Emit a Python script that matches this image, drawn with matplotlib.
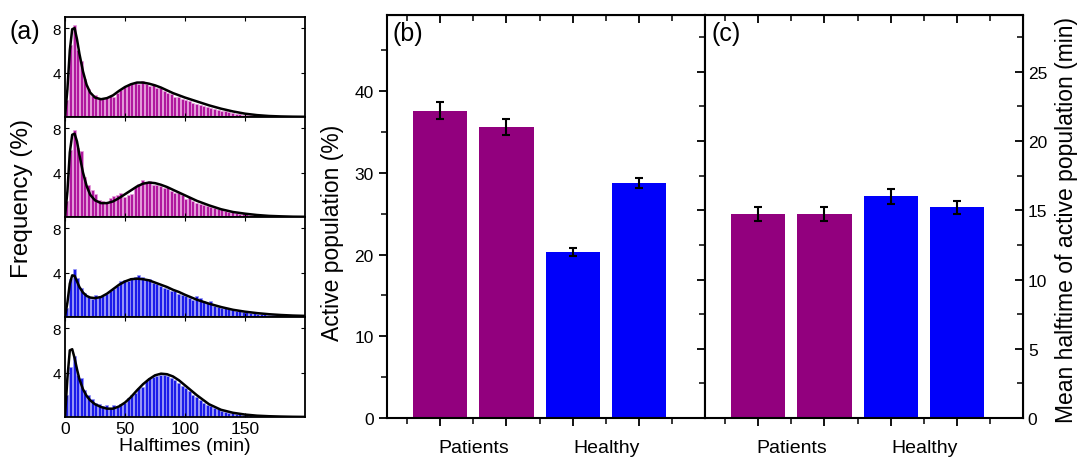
import numpy as np
import matplotlib
matplotlib.use("Agg")
import matplotlib.pyplot as plt
from matplotlib.transforms import blended_transform_factory

plt.rcParams["font.family"] = ["Liberation Sans", "DejaVu Sans"]

# ---- panel (a): halftime histograms (3 min bins, 0-180 min) ----
bin_width = 3
bin_centers = np.arange(60) * bin_width + bin_width / 2

hist_p1 = [1.5, 6.5, 8.3, 6.0, 5.0, 3.4, 2.5, 1.9, 2.0, 1.7,
           1.6, 1.7, 1.9, 1.8, 2.2, 2.4, 2.7, 2.9, 3.0, 3.1,
           3.0, 3.2, 3.0, 2.8, 2.9, 2.6, 2.6, 2.3, 2.2, 2.1,
           1.8, 1.8, 1.6, 1.5, 1.4, 1.3, 1.2, 1.1, 1.0, 0.9,
           0.85, 0.7, 0.65, 0.55, 0.5, 0.45, 0.35, 0.3, 0.25, 0.2,
           0.2, 0.15, 0.12, 0.1, 0.08, 0.06, 0.05, 0.04, 0.03, 0.02]
hist_p2 = [1.4, 6.0, 7.8, 6.2, 5.9, 3.6, 2.9, 2.4, 2.1, 1.5,
           1.4, 1.3, 1.7, 1.9, 2.0, 2.2, 1.8, 2.0, 2.1, 2.7,
           3.0, 3.3, 3.1, 3.2, 2.9, 2.9, 2.8, 2.6, 2.7, 2.3,
           2.2, 2.2, 2.0, 1.6, 1.8, 1.4, 1.3, 1.2, 1.1, 1.0,
           0.9, 0.8, 0.7, 0.75, 0.5, 0.45, 0.45, 0.35, 0.3, 0.35,
           0.25, 0.2, 0.15, 0.12, 0.1, 0.08, 0.06, 0.04, 0.03, 0.02]
hist_h1 = [0.8, 3.4, 4.3, 3.5, 2.6, 2.2, 1.8, 1.6, 2.0, 1.8,
           1.9, 2.1, 2.3, 2.5, 2.8, 3.2, 3.3, 3.2, 3.5, 3.6,
           3.8, 3.6, 3.4, 3.4, 3.1, 3.0, 2.8, 2.6, 2.5, 2.3,
           2.3, 2.1, 2.0, 1.9, 1.7, 1.5, 1.9, 1.7, 1.4, 1.3,
           1.4, 1.0, 0.9, 0.85, 0.8, 0.7, 0.6, 0.55, 0.5, 0.45,
           0.45, 0.4, 0.35, 0.3, 0.3, 0.25, 0.22, 0.2, 0.18, 0.15]
hist_h2 = [2.0, 4.5, 5.5, 3.8, 3.5, 2.4, 2.0, 1.6, 1.3, 1.2,
           1.0, 1.1, 0.8, 1.1, 0.9, 1.2, 1.3, 1.7, 2.0, 2.2,
           2.6, 2.7, 3.2, 3.5, 3.6, 3.7, 3.8, 3.8, 3.7, 3.5,
           3.3, 3.1, 2.8, 2.6, 2.3, 2.0, 1.8, 1.5, 1.3, 1.1,
           1.0, 0.8, 0.7, 0.55, 0.45, 0.4, 0.35, 0.3, 0.25, 0.2,
           0.25, 0.15, 0.12, 0.1, 0.08, 0.06, 0.05, 0.04, 0.03, 0.02]

# fitted curves
fit_x = [0, 2, 4, 6, 8, 10, 12, 15, 18, 21, 25, 30, 35, 40, 45, 50, 55, 60,
         65, 70, 75, 80, 85, 90, 95, 100, 110, 120, 130, 140, 150, 160, 170,
         180, 190, 200]
fit_p1 = [0, 2.5, 6.0, 7.9, 8.0, 7.0, 5.7, 4.1, 2.9, 2.2, 1.75, 1.6, 1.7, 1.95,
          2.35, 2.7, 2.95, 3.1, 3.1, 3.0, 2.85, 2.65, 2.4, 2.15, 1.95, 1.75,
          1.4, 1.05, 0.75, 0.5, 0.3, 0.17, 0.09, 0.05, 0.03, 0.02]
fit_p2 = [0, 2.3, 5.8, 7.4, 7.5, 6.8, 5.6, 4.0, 2.8, 2.0, 1.5, 1.25, 1.25, 1.4,
          1.7, 2.05, 2.4, 2.75, 3.0, 3.1, 3.05, 2.9, 2.7, 2.45, 2.2, 1.95,
          1.45, 1.05, 0.7, 0.45, 0.3, 0.18, 0.1, 0.06, 0.03, 0.02]
fit_h1 = [0, 1.3, 3.0, 3.75, 3.7, 3.2, 2.7, 2.2, 1.9, 1.75, 1.7, 1.8, 2.1, 2.5,
          2.9, 3.2, 3.4, 3.45, 3.4, 3.3, 3.1, 2.9, 2.7, 2.45, 2.25, 2.0,
          1.55, 1.2, 0.9, 0.65, 0.48, 0.35, 0.25, 0.18, 0.13, 0.1]
fit_h2 = [0, 3.5, 6.0, 6.1, 5.3, 4.3, 3.4, 2.5, 1.9, 1.5, 1.15, 0.9, 0.75, 0.75,
          0.95, 1.3, 1.8, 2.4, 2.95, 3.4, 3.75, 3.9, 3.85, 3.65, 3.3, 2.85,
          1.95, 1.15, 0.65, 0.38, 0.22, 0.12, 0.07, 0.04, 0.02, 0.01]

# ---- panels (b) and (c): bar charts ----
groups = ["Patients", "Healthy"]
active_pop = [37.6, 35.6, 20.3, 28.7]
active_pop_err = [1.0, 1.0, 0.5, 0.6]
mean_halftime = [14.7, 14.7, 16.0, 15.2]
mean_halftime_err = [0.5, 0.5, 0.55, 0.5]

purple = "#92007E"
blue = "#0000FA"
bar_colors = [purple, purple, blue, blue]

hist_sets = [
    (hist_p1, fit_p1, "#B0189E", "#E7A0DD"),
    (hist_p2, fit_p2, "#B0189E", "#E7A0DD"),
    (hist_h1, fit_h1, "#1B1BEA", "#9A9AF7"),
    (hist_h2, fit_h2, "#1B1BEA", "#9A9AF7"),
]

fig = plt.figure(figsize=(10.79, 4.6), dpi=100)
W, H = 1079.0, 460.0

# panel (a)
a_left, a_right = 65, 305
for i, (hv, fv, fc, ec) in enumerate(hist_sets):
    top = 18 + 100 * i
    ax = fig.add_axes([a_left / W, 1 - (top + 100) / H,
                       (a_right - a_left) / W, 100 / H])
    ax.bar(bin_centers, hv, width=2.5, color=fc, edgecolor=ec, linewidth=0.5)
    ax.plot(fit_x, fv, color="black", lw=1.8)
    ax.set_xlim(0, 200)
    ax.set_ylim(0, 9)
    ax.set_yticks([4, 8])
    ax.set_xticks([0, 50, 100, 150])
    ax.tick_params(direction="in", top=True, right=True, length=3,
                   labelsize=11, pad=3)
    if i < 3:
        ax.set_xticklabels([])
    else:
        ax.tick_params(axis="x", labelsize=12.5)
    for s in ax.spines.values():
        s.set_linewidth(1.3)

fig.text(25 / W, 1 - 32 / H, "(a)", fontsize=18, ha="center", va="center")
fig.text(22 / W, 1 - 199 / H, "Frequency (%)", fontsize=17.5, rotation=90,
         ha="center", va="center")
fig.text(185 / W, 1 - 447 / H, "Halftimes (min)", fontsize=14,
         ha="center", va="center")

# panels (b) and (c)
pos = [1, 2, 3, 4]
bot_px, top_px = 419, 16
panels = [
    (387, active_pop, active_pop_err, (0, 49.3), [0, 10, 20, 30, 40],
     np.arange(5, 50, 5), "(b)"),
    (705, mean_halftime, mean_halftime_err, (0, 29.1), [0, 5, 10, 15, 20, 25],
     np.arange(2.5, 29, 2.5), "(c)"),
]
for left, vals, errs, ylim, yt, ymin, tag in panels:
    ax = fig.add_axes([left / W, 1 - bot_px / H, 318 / W, (bot_px - top_px) / H])
    ax.bar(pos, vals, width=0.82, color=bar_colors)
    ax.errorbar(pos, vals, yerr=errs, fmt="none", ecolor="black",
                elinewidth=1.5, capsize=3, capthick=1.5)
    ax.set_xlim(0.2, 4.99)
    ax.set_ylim(*ylim)
    ax.set_xticks(pos)
    ax.set_xticklabels([])
    ax.set_xticks([0.5, 1.5, 2.5, 3.5, 4.5], minor=True)
    ax.set_yticks(yt)
    ax.set_yticks(ymin, minor=True)
    ax.tick_params(direction="out", length=6, width=1.3, labelsize=12.5)
    ax.tick_params(which="minor", direction="out", length=4, width=1.1)
    for s in ax.spines.values():
        s.set_linewidth(1.5)

    sx = ax.secondary_xaxis("top")
    sx.set_xticks(pos)
    sx.set_xticklabels([])
    sx.set_xticks([0.5, 1.5, 2.5, 3.5, 4.5], minor=True)
    sx.tick_params(direction="in", length=6, width=1.3)
    sx.tick_params(which="minor", direction="in", length=4, width=1.1)

    if tag == "(c)":
        ax.set_yticklabels([])
        sy = ax.secondary_yaxis("right")
        sy.set_yticks(yt)
        sy.set_yticks(ymin, minor=True)
        sy.tick_params(direction="in", length=6, width=1.3, labelsize=12.5)
        sy.tick_params(which="minor", direction="in", length=4, width=1.1)

    trans = blended_transform_factory(ax.transData, ax.transAxes)
    for g, xc in zip(groups, [1.5, 3.5]):
        ax.text(xc, -0.072, g, transform=trans, fontsize=14,
                ha="center", va="center")
    ax.text(0.016 if tag == "(b)" else 0.022, 0.985, tag, transform=ax.transAxes,
            fontsize=18, ha="left", va="top")

fig.text(333 / W, 1 - 233 / H, "Active population (%)", fontsize=16.5,
         rotation=90, ha="center", va="center")
fig.text(1066 / W, 1 - 220 / H, "Mean halftime of active population (min)",
         fontsize=16.5, rotation=90, ha="center", va="center")

fig.savefig("out.png", dpi=100)
